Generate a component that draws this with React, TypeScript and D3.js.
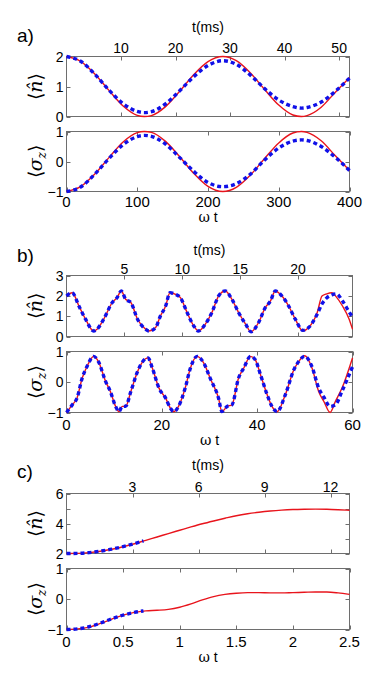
import { useEffect, useRef } from 'react';
import * as d3 from 'd3';

// ---- panel a ----
const aOmegaT = [0, 20, 40, 60, 80, 100, 110, 120, 140, 160, 180, 200, 221, 240, 260, 280, 300, 320, 332, 340, 360, 380, 400];
const aNRed = [2.0, 1.84, 1.42, 0.87, 0.35, 0.04, 0.0, 0.03, 0.33, 0.84, 1.4, 1.83, 2.0, 1.86, 1.45, 0.9, 0.38, 0.05, 0.0, 0.03, 0.31, 0.81, 1.3];
const aNBlue = [2.0, 1.84, 1.41, 0.88, 0.43, 0.17, 0.13, 0.16, 0.42, 0.86, 1.33, 1.7, 1.86, 1.74, 1.38, 0.93, 0.55, 0.33, 0.28, 0.3, 0.48, 0.84, 1.28];
const aSzRed = [-1.0, -0.84, -0.42, 0.13, 0.65, 0.96, 1.0, 0.97, 0.67, 0.16, -0.4, -0.83, -1.0, -0.86, -0.45, 0.1, 0.62, 0.95, 1.0, 0.97, 0.69, 0.19, -0.3];
const aSzBlue = [-1.0, -0.85, -0.42, 0.1, 0.56, 0.83, 0.87, 0.84, 0.58, 0.13, -0.33, -0.7, -0.84, -0.74, -0.42, 0.05, 0.45, 0.68, 0.72, 0.7, 0.5, 0.14, -0.3];

// ---- panel b ----
const bTimeN = [0, 1.2, 2.6, 4.0, 5.7, 6.4, 7.8, 9.6, 10.6, 11.5, 12.4, 13.5, 14.9, 16.6, 17.3, 18.7, 19.7, 20.8, 21.7, 22.9, 23.9, 25.3, 26.7, 27.7, 29.1, 30.5, 31.9, 33.3, 34.7, 36.1, 37.6, 38.7, 40.3, 41.7, 42.8, 43.8, 45.2, 46.6, 48.0, 49.6, 50.8, 52.6, 53.6, 54.6, 55.7, 56.6, 57.9, 59.3, 60];
const bNRed = [1.99, 2.15, 1.5, 0.85, 0.27, 0.36, 0.85, 1.67, 1.91, 2.24, 1.83, 1.67, 0.85, 0.36, 0.27, 0.44, 1.01, 1.5, 2.15, 2.07, 1.91, 1.18, 0.52, 0.27, 0.6, 1.18, 1.99, 2.24, 1.83, 1.18, 0.6, 0.23, 0.69, 1.42, 1.75, 2.24, 1.99, 1.5, 0.85, 0.27, 0.44, 1.18, 1.99, 2.1, 2.15, 1.95, 1.5, 0.85, 0.36];
const bNBlue = [1.99, 2.15, 1.5, 0.85, 0.27, 0.36, 0.85, 1.67, 1.91, 2.24, 1.83, 1.67, 0.85, 0.36, 0.27, 0.44, 1.01, 1.5, 2.15, 2.07, 1.91, 1.18, 0.52, 0.27, 0.6, 1.18, 1.99, 2.24, 1.83, 1.18, 0.6, 0.23, 0.69, 1.42, 1.75, 2.24, 1.99, 1.5, 0.85, 0.3, 0.44, 1.1, 1.6, 1.9, 2.05, 2.1, 1.75, 1.2, 0.95];
const bTimeS = [0, 1.2, 2.2, 3.3, 4.3, 5.7, 6.7, 8.2, 9.2, 10.3, 11.0, 11.7, 12.4, 13.5, 14.9, 16.0, 17.1, 18.0, 19.4, 20.8, 21.8, 22.5, 23.5, 24.9, 26.0, 27.4, 28.8, 30.2, 31.9, 32.6, 33.7, 34.7, 36.1, 37.2, 38.6, 39.6, 40.7, 42.1, 43.1, 44.2, 45.9, 47.7, 48.7, 50.0, 51.5, 52.9, 54.0, 55.3, 56.4, 57.8, 60];
const bSzRed = [-1.0, -0.75, -0.53, 0.13, 0.51, 0.84, 0.67, 0.02, -0.31, -0.8, -0.97, -0.8, -0.8, -0.31, 0.34, 0.67, 0.79, 0.46, -0.2, -0.53, -0.86, -0.97, -0.8, -0.2, 0.46, 0.84, 0.62, 0.1, -0.53, -0.97, -0.8, -0.75, 0.13, 0.46, 0.84, 0.73, 0.24, -0.42, -0.8, -0.97, -0.42, 0.4, 0.67, 0.86, 0.46, -0.31, -0.64, -1.0, -0.64, -0.2, 0.79];
const bSzBlue = [-1.0, -0.75, -0.53, 0.13, 0.51, 0.84, 0.67, 0.02, -0.31, -0.8, -0.97, -0.8, -0.8, -0.31, 0.34, 0.67, 0.79, 0.46, -0.2, -0.53, -0.86, -0.97, -0.8, -0.2, 0.46, 0.84, 0.62, 0.1, -0.53, -0.97, -0.8, -0.75, 0.13, 0.46, 0.84, 0.73, 0.24, -0.42, -0.8, -0.97, -0.42, 0.4, 0.67, 0.84, 0.5, -0.2, -0.5, -0.8, -0.75, -0.3, 0.5];

// ---- panel c ----
const cOmegaT = [0, 0.1, 0.2, 0.3, 0.4, 0.5, 0.6, 0.7, 0.8, 0.9, 1.0, 1.1, 1.2, 1.3, 1.4, 1.5, 1.6, 1.7, 1.8, 1.9, 2.0, 2.1, 2.2, 2.3, 2.4, 2.5];
const cNRed = [2.0, 2.01, 2.06, 2.15, 2.28, 2.45, 2.65, 2.88, 3.1, 3.33, 3.55, 3.77, 3.98, 4.17, 4.35, 4.52, 4.65, 4.75, 4.83, 4.89, 4.93, 4.95, 4.96, 4.95, 4.92, 4.88];
const cSzRed = [-1.0, -0.98, -0.92, -0.8, -0.66, -0.53, -0.44, -0.39, -0.37, -0.34, -0.27, -0.16, -0.03, 0.08, 0.15, 0.19, 0.21, 0.21, 0.2, 0.2, 0.21, 0.22, 0.23, 0.23, 0.2, 0.15];
const cBlueT = [0, 0.1, 0.2, 0.3, 0.4, 0.5, 0.6, 0.68];
const cNBlue = [2.0, 2.01, 2.06, 2.16, 2.29, 2.46, 2.66, 2.84];
const cSzBlue = [-1.0, -0.98, -0.91, -0.79, -0.65, -0.53, -0.44, -0.39];

const panels = [
  {
    letter: 'a)', letterY: 42, left: 66.5, right: 349.5,
    msDomain: [0, 51.9], msTicks: [10, 20, 30, 40, 50], msTitleY: 32, msLabelY: 53,
    wtDomain: [0, 400], wtTicks: [0, 100, 200, 300, 400], wtLabelY: 207, wtTitleY: 222,
    nBox: [56.5, 116.5], nDomain: [0, 2], nTicks: [0, 1, 2], nLabels: [0, 1, 2],
    sBox: [131.5, 191.5], sDomain: [-1, 1], sTicks: [-1, 0, 1],
    nRed: [aOmegaT, aNRed], nBlue: [aOmegaT, aNBlue], sRed: [aOmegaT, aSzRed], sBlue: [aOmegaT, aSzBlue]
  },
  {
    letter: 'b)', letterY: 262, left: 66.5, right: 352.5,
    msDomain: [0, 24.7], msTicks: [5, 10, 15, 20], msTitleY: 255, msLabelY: 274,
    wtDomain: [0, 60], wtTicks: [0, 20, 40, 60], wtLabelY: 430, wtTitleY: 445,
    nBox: [275.5, 336.5], nDomain: [0, 3], nTicks: [0, 1, 2, 3], nLabels: [0, 1, 2, 3],
    sBox: [351.5, 412.5], sDomain: [-1, 1], sTicks: [-1, 0, 1],
    nRed: [bTimeN, bNRed], nBlue: [bTimeN, bNBlue], sRed: [bTimeS, bSzRed], sBlue: [bTimeS, bSzBlue]
  },
  {
    letter: 'c)', letterY: 478, left: 66.5, right: 349.5,
    msDomain: [0, 12.86], msTicks: [3, 6, 9, 12], msTitleY: 470, msLabelY: 492,
    wtDomain: [0, 2.5], wtTicks: [0, 0.5, 1, 1.5, 2, 2.5], wtLabelY: 647, wtTitleY: 662,
    nBox: [493.5, 553.5], nDomain: [2, 6], nTicks: [2, 3, 4, 5, 6], nLabels: [2, 4, 6],
    sBox: [568.5, 629.5], sDomain: [-1, 1], sTicks: [-1, 0, 1],
    nRed: [cOmegaT, cNRed], nBlue: [cBlueT, cNBlue], sRed: [cOmegaT, cSzRed], sBlue: [cBlueT, cSzBlue]
  }
];

const SANS = "'Liberation Sans', Arial, sans-serif";
const SERIF = "'DejaVu Serif', 'Liberation Serif', serif";
const FRAME = '#6e6e6e';
const RED = '#e8141c';
const BLUE = '#1010e8';
const TICK = 4;

const fmt = (v: number) => (v < 0 ? '\u2212' + Math.abs(v) : String(v));

function drawPanel(svg: any, p: any) {
  const x = d3.scaleLinear().domain(p.wtDomain).range([p.left, p.right]);
  const xMs = d3.scaleLinear().domain(p.msDomain).range([p.left, p.right]);
  const yN = d3.scaleLinear().domain(p.nDomain).range([p.nBox[1], p.nBox[0]]);
  const yS = d3.scaleLinear().domain(p.sDomain).range([p.sBox[1], p.sBox[0]]);
  const g = svg.append('g');

  g.append('text')
    .attr('x', 17).attr('y', p.letterY)
    .style('font-family', SANS).style('font-size', '19px')
    .text(p.letter);

  g.append('text')
    .attr('x', (p.left + p.right) / 2).attr('y', p.msTitleY)
    .attr('text-anchor', 'middle')
    .style('font-family', SANS).style('font-size', '14px')
    .text('t(ms)');

  const boxes = [
    { box: p.nBox, y: yN, yTicks: p.nTicks, yLabels: p.nLabels, xs: xMs, xTicks: p.msTicks },
    { box: p.sBox, y: yS, yTicks: p.sTicks, yLabels: p.sTicks, xs: x, xTicks: p.wtTicks }
  ];

  boxes.forEach((b, bi) => {
    const [top, bottom] = b.box;
    g.append('rect')
      .attr('x', p.left).attr('y', top)
      .attr('width', p.right - p.left).attr('height', bottom - top)
      .attr('fill', 'white').attr('stroke', FRAME).attr('stroke-width', 1);

    b.xTicks.forEach((t: number) => {
      const tx = Math.round(b.xs(t)) + 0.5;
      g.append('line').attr('x1', tx).attr('x2', tx).attr('y1', top).attr('y2', top + TICK).attr('stroke', FRAME);
      g.append('line').attr('x1', tx).attr('x2', tx).attr('y1', bottom).attr('y2', bottom - TICK).attr('stroke', FRAME);
    });
    b.yTicks.forEach((t: number) => {
      const ty = Math.round(b.y(t)) + 0.5;
      g.append('line').attr('x1', p.left).attr('x2', p.left + TICK).attr('y1', ty).attr('y2', ty).attr('stroke', FRAME);
      g.append('line').attr('x1', p.right).attr('x2', p.right - TICK).attr('y1', ty).attr('y2', ty).attr('stroke', FRAME);
    });
    b.yLabels.forEach((t: number) => {
      g.append('text')
        .attr('x', p.left - 3).attr('y', b.y(t)).attr('dy', '0.36em')
        .attr('text-anchor', 'end')
        .style('font-family', SANS).style('font-size', '14px')
        .text(fmt(t));
    });

    if (bi === 0) {
      p.msTicks.forEach((t: number) => {
        g.append('text')
          .attr('x', xMs(t)).attr('y', p.msLabelY)
          .attr('text-anchor', 'middle')
          .style('font-family', SANS).style('font-size', '14px')
          .text(fmt(t));
      });
    } else {
      p.wtTicks.forEach((t: number) => {
        g.append('text')
          .attr('x', x(t)).attr('y', p.wtLabelY)
          .attr('text-anchor', 'middle')
          .style('font-family', SANS).style('font-size', '15px')
          .text(fmt(t));
      });
    }
  });

  const drawSeries = (data: number[][], ys: any, color: string, width: number, dash?: string) => {
    const [ts, vs] = data;
    const pts = ts.map((t, i) => [x(t), ys(vs[i])] as [number, number]);
    const path = g.append('path')
      .attr('d', d3.line().curve(d3.curveMonotoneX)(pts))
      .attr('fill', 'none')
      .attr('stroke', color)
      .attr('stroke-width', width);
    if (dash) path.attr('stroke-dasharray', dash);
  };

  drawSeries(p.nRed, yN, RED, 1.4);
  drawSeries(p.nBlue, yN, BLUE, 3.4, '4 3');
  drawSeries(p.sRed, yS, RED, 1.4);
  drawSeries(p.sBlue, yS, BLUE, 3.4, '4 3');

  // y axis titles
  const yLab = (cy: number, kind: string) => {
    const t = g.append('text')
      .attr('transform', `translate(42,${cy}) rotate(-90)`)
      .attr('text-anchor', 'middle')
      .style('font-size', '19px');
    t.append('tspan').style('font-family', "'DejaVu Sans', sans-serif").style('font-weight', '200').text('\u27E8');
    if (kind === 'n') {
      t.append('tspan').style('font-family', SERIF).style('font-style', 'italic').text('n\u0302');
      t.append('tspan').style('font-family', "'DejaVu Sans', sans-serif").text('\u27E9');
    } else {
      t.append('tspan').style('font-family', SERIF).style('font-style', 'italic').text('\u03C3');
      t.append('tspan').style('font-family', SERIF).style('font-style', 'italic').style('font-size', '12px').attr('dy', 4).text('z');
      t.append('tspan').style('font-family', "'DejaVu Sans', sans-serif").attr('dy', -4).text('\u27E9');
    }
  };
  yLab((p.nBox[0] + p.nBox[1]) / 2, 'n');
  yLab((p.sBox[0] + p.sBox[1]) / 2, 's');

  const wt = g.append('text')
    .attr('x', (p.left + p.right) / 2).attr('y', p.wtTitleY)
    .attr('text-anchor', 'middle')
    .style('font-size', '14px');
  wt.append('tspan').style('font-family', SERIF).text('\u03C9');
  wt.append('tspan').style('font-family', SANS).text(' t');
}

export default function App() {
  const svgRef = useRef<SVGSVGElement>(null);

  useEffect(() => {
    const svg = d3.select(svgRef.current);
    svg.selectAll('*').remove();
    svg.append('rect').attr('width', 374).attr('height', 676).attr('fill', 'white');
    panels.forEach(p => drawPanel(svg, p));
  }, []);

  return (
    <svg
      ref={svgRef}
      width={374}
      height={676}
      style={{ position: 'absolute', left: 0, top: 0, display: 'block' }}
    />
  );
}
